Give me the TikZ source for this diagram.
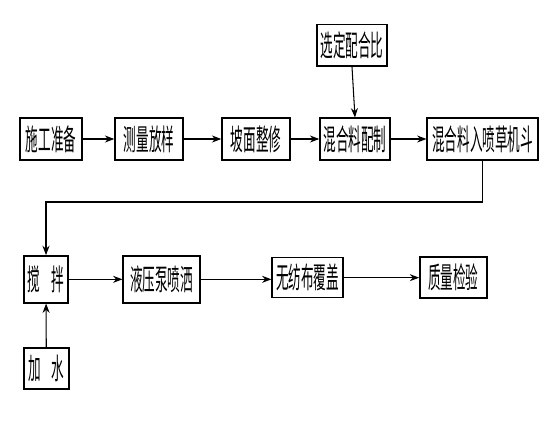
\documentclass[tikz,border=0pt]{standalone}
\usepackage{fontspec}
\usepackage{tikz}
\usetikzlibrary{arrows.meta}
\newfontfamily\cjk[FakeStretch=0.43]{Noto Sans CJK SC}

\begin{document}
\begin{tikzpicture}[
  box/.style={rectangle, draw=black, line width=1.2pt, align=center, minimum height=1.25cm, inner sep=0pt, fill=white, font=\cjk\fontsize{25pt}{27pt}\selectfont},
  arrow/.style={-{Stealth[length=8pt,width=6pt]}, line width=0.9pt, draw=black}
]
\useasboundingbox (0,0) rectangle (16.8,12.6);
% first row
\node[box, minimum width=1.86cm] (prep) at (1.53,8.43) {施工准备};
\node[box, minimum width=2.04cm] (survey) at (4.47,8.43) {测量放样};
\node[box, minimum width=2.04cm] (slope) at (7.68,8.43) {坡面整修};
\node[box, minimum width=2.10cm] (mix) at (10.65,8.43) {混合料配制};
\node[box, minimum width=3.33cm] (hopper) at (14.48,8.43) {混合料入喷草机斗};
\node[box, minimum width=2.10cm] (ratio) at (10.56,11.24) {选定配合比};
% second row
\node[box, minimum width=1.32cm, minimum height=1.41cm] (stir) at (1.38,4.22) {搅\hspace{0.33cm}拌};
\node[box, minimum width=2.31cm, minimum height=1.41cm] (spray) at (4.85,4.22) {液压泵喷洒};
\node[box, minimum width=2.13cm, minimum height=1.2cm] (cover) at (9.23,4.27) {无纺布覆盖};
\node[box, minimum width=2.01cm, minimum height=1.23cm] (check) at (13.6,4.27) {质量检验};
\node[box, minimum width=1.35cm, minimum height=1.23cm] (water) at (1.39,1.55) {加\hspace{0.33cm}水};
\coordinate (turn) at (14.48,6.54);
\draw[arrow] (prep) -- (survey);
\draw[arrow] (survey) -- (slope);
\draw[arrow] (slope) -- (mix);
\draw[arrow] (mix) -- (hopper);
\draw[arrow] (ratio.south) -- (mix.north);
\draw[arrow] (hopper.south) -- (turn) -| (stir.north);
\draw[arrow] (stir) -- (spray);
\draw[arrow] (spray.east) -- (cover.west |- spray.east);
\draw[arrow] (cover) -- (check);
\draw[arrow] (water) -- (stir);
\end{tikzpicture}
\end{document}
